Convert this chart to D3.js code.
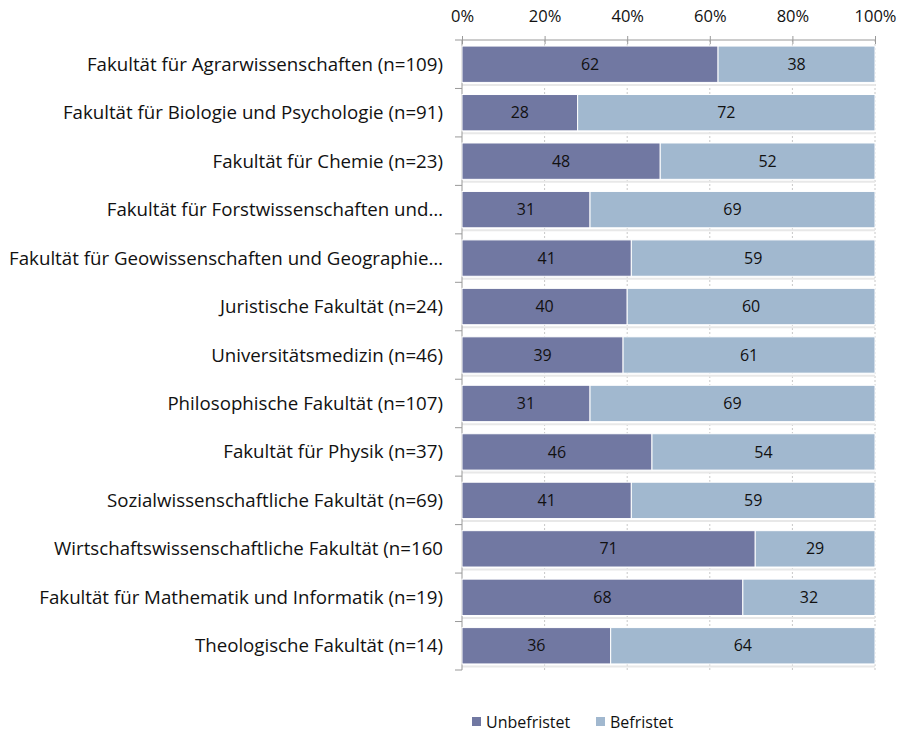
<!DOCTYPE html>
<html>
<head>
<meta charset="utf-8">
<script src="https://cdn.jsdelivr.net/npm/d3@7"></script>
<style>
  body { margin: 0; background: #fff; }
  svg text { font-family: "Open Sans", sans-serif; fill: #111; }
</style>
</head>
<body>
<svg width="900" height="732"></svg>
<script>
const categories = [
    "Fakultät für Agrarwissenschaften (n=109)",
    "Fakultät für Biologie und Psychologie (n=91)",
    "Fakultät für Chemie (n=23)",
    "Fakultät für Forstwissenschaften und…",
    "Fakultät für Geowissenschaften und Geographie…",
    "Juristische Fakultät (n=24)",
    "Universitätsmedizin (n=46)",
    "Philosophische Fakultät (n=107)",
    "Fakultät für Physik (n=37)",
    "Sozialwissenschaftliche Fakultät (n=69)",
    "Wirtschaftswissenschaftliche Fakultät (n=160",
    "Fakultät für Mathematik und Informatik (n=19)",
    "Theologische Fakultät (n=14)"
];
const unbefristet = [62, 28, 48, 31, 41, 40, 39, 31, 46, 41, 71, 68, 36];
const befristet = [38, 72, 52, 69, 59, 60, 61, 69, 54, 59, 29, 32, 64];
const seriesNames = ["Unbefristet", "Befristet"];
const seriesColors = ["#7178a2", "#a1b8cf"];
const ticks = [0, 20, 40, 60, 80, 100];

const svg = d3.select("svg");
const plotLeft = 462, plotRight = 875, plotTop = 40, plotBottom = 670;

const x = d3.scaleLinear().domain([0, 100]).range([plotLeft, plotRight]);
const y = d3.scaleBand().domain(categories).range([plotTop, plotBottom]).paddingInner(0.25).paddingOuter(0.125);

// dotted grid
svg.append("g")
    .selectAll("line")
    .data(ticks.slice(1))
    .enter().append("line")
    .attr("x1", d => x(d)).attr("x2", d => x(d))
    .attr("y1", plotTop).attr("y2", plotBottom)
    .style("stroke", "#c8c8c8")
    .style("stroke-dasharray", "2,2");

// horizontal shadow lines under bars
svg.append("g")
    .selectAll("line")
    .data(categories)
    .enter().append("line")
    .attr("x1", plotLeft).attr("x2", plotRight)
    .attr("y1", d => y(d) + y.bandwidth() + 2.5)
    .attr("y2", d => y(d) + y.bandwidth() + 2.5)
    .style("stroke", "#e8e8e8")
    .style("stroke-width", 2);

// top axis
const xAxis = d3.axisTop(x)
    .tickValues(ticks)
    .tickFormat(d => d + "%")
    .tickSize(4)
    .tickPadding(14);
const gx = svg.append("g").attr("transform", `translate(0,${plotTop})`).call(xAxis);
gx.select(".domain").attr("stroke", "#999").attr("d", `M${plotLeft},0H${plotRight}`);
gx.selectAll(".tick line").attr("stroke", "#999").attr("y1", 4).attr("y2", -4);
gx.selectAll(".tick text").style("font-size", "16.5px").style("fill", "#111");

// y axis line with boundary ticks
const boundaries = categories.map((c, i) => plotTop + i * y.step()).concat([plotBottom]);
svg.append("line")
    .attr("x1", plotLeft).attr("x2", plotLeft).attr("y1", plotTop).attr("y2", plotBottom)
    .style("stroke", "#999");
svg.append("g")
    .selectAll("line")
    .data(boundaries)
    .enter().append("line")
    .attr("x1", plotLeft - 7).attr("x2", plotLeft)
    .attr("y1", d => d).attr("y2", d => d)
    .style("stroke", "#999");

// category labels
svg.append("g")
    .selectAll("text")
    .data(categories)
    .enter().append("text")
    .attr("x", 443)
    .attr("y", d => y(d) + y.bandwidth() / 2)
    .attr("dy", "0.35em")
    .attr("text-anchor", "end")
    .style("font-size", "18.7px")
    .text(d => d);

// bars
const rows = categories.map((c, i) => ({c, u: unbefristet[i], b: befristet[i]}));
const stacked = d3.stack().keys(["u", "b"])(rows);

const series = svg.append("g")
    .selectAll("g")
    .data(stacked)
    .enter().append("g")
    .style("fill", (d, i) => seriesColors[i]);

series.selectAll("rect")
    .data(d => d)
    .enter().append("rect")
    .attr("x", d => x(d[0]))
    .attr("y", d => y(d.data.c))
    .attr("width", d => x(d[1]) - x(d[0]))
    .attr("height", y.bandwidth())
    .style("stroke", "#fff")
    .style("stroke-width", 1);

series.selectAll("text")
    .data(d => d)
    .enter().append("text")
    .attr("x", d => (x(d[0]) + x(d[1])) / 2)
    .attr("y", d => y(d.data.c) + y.bandwidth() / 2)
    .attr("dy", "0.35em")
    .attr("text-anchor", "middle")
    .style("font-size", "16px")
    .text(d => d[1] - d[0]);

// legend
const legendX = [472, 596];
const legend = svg.append("g")
    .selectAll("g")
    .data(seriesNames)
    .enter().append("g")
    .attr("transform", (d, i) => `translate(${legendX[i]},722)`);
legend.append("rect")
    .attr("x", 0).attr("y", -5).attr("width", 9).attr("height", 9)
    .style("fill", (d, i) => seriesColors[i]);
legend.append("text")
    .attr("x", 14).attr("y", 0).attr("dy", "0.35em")
    .style("font-size", "16px")
    .text(d => d);
</script>
</body>
</html>
